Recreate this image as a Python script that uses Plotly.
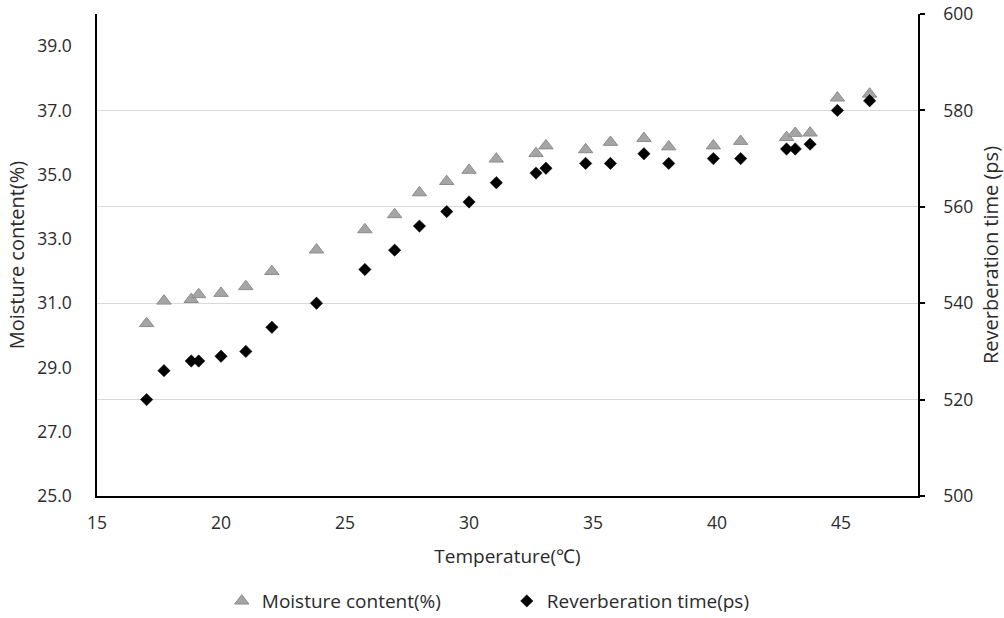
import plotly.graph_objects as go

temperature = [17.0, 17.7, 18.8, 19.1, 20.0, 21.0, 22.05, 23.85, 25.8, 27.0, 28.0, 29.1, 30.0,
               31.1, 32.7, 33.1, 34.7, 35.7, 37.05, 38.05, 39.85, 40.95, 42.8, 43.15, 43.75,
               44.85, 46.15]
moisture = [30.37, 31.07, 31.12, 31.27, 31.31, 31.52, 31.99, 32.66, 33.29, 33.76, 34.44, 34.79,
            35.14, 35.49, 35.66, 35.9, 35.78, 36.01, 36.13, 35.87, 35.9, 36.04, 36.16, 36.29,
            36.3, 37.39, 37.51]
reverb = [520, 526, 528, 528, 529, 530, 535, 540, 547, 551, 556, 559, 561, 565, 567, 568,
          569, 569, 571, 569, 570, 570, 572, 572, 573, 580, 582]

left_ticks = [25, 27, 29, 31, 33, 35, 37, 39]
right_ticks = [500, 520, 540, 560, 580, 600]
x_ticks = [15, 20, 25, 30, 35, 40, 45]

FONT = "Open Sans"
TXT = "#2b2b2b"

fig = go.Figure()
fig.add_trace(go.Scatter(
    x=temperature, y=moisture, mode="markers", name="Moisture content(%)",
    marker=dict(symbol="triangle-up", size=12.5, color="#A5A5A5",
                line=dict(color="#8C8C8C", width=1)),
    yaxis="y"))
fig.add_trace(go.Scatter(
    x=temperature, y=reverb, mode="markers", name="Reverberation time(ps)",
    marker=dict(symbol="diamond", size=9.5, color="#000000",
                line=dict(color="#000000", width=0.5)),
    yaxis="y2"))

fig.update_layout(
    width=1004, height=618,
    margin=dict(l=97, r=86, t=14, b=122, autoexpand=False),
    paper_bgcolor="white", plot_bgcolor="white",
    font=dict(family=FONT, size=17, color=TXT),
    showlegend=True,
    legend=dict(orientation="h", x=0.152, xanchor="left", y=-0.218, yanchor="middle",
                font=dict(size=19, color=TXT), itemsizing="trace",
                entrywidth=240, traceorder="normal"),
    xaxis=dict(range=[15, 48.1], tickvals=x_ticks, showgrid=False, zeroline=False,
               showline=True, linecolor="#000000", linewidth=1.5, ticks="",
               automargin=False, ticklabelstandoff=10, ticklabeloverflow="allow",
               tickfont=dict(size=17.5, color=TXT),
               title=dict(text="Temperature(℃)", font=dict(size=19, color=TXT), standoff=17)),
    yaxis=dict(range=[25, 40], tickvals=left_ticks, tickformat=".1f", showgrid=False,
               zeroline=False, showline=True, linecolor="#000000", linewidth=1.5, ticks="",
               ticklabelstandoff=20, automargin=False, ticklabeloverflow="allow",
               tickfont=dict(size=17.5, color=TXT),
               title=dict(text="Moisture content(%)", font=dict(size=20, color=TXT), standoff=7)),
    yaxis2=dict(range=[500, 600], tickvals=right_ticks, overlaying="y", side="right",
                showgrid=True, gridcolor="#D9D9D9", gridwidth=1, zeroline=False,
                showline=True, linecolor="#000000", linewidth=1.5, automargin=False,
                ticks="outside", ticklen=5, tickcolor="#000000", tickwidth=1.5,
                ticklabelstandoff=15, ticklabeloverflow="allow",
                tickfont=dict(size=17.5, color=TXT),
                title=dict(text="Reverberation time (ps)", font=dict(size=20, color=TXT),
                           standoff=12)),
)

# remove the default 8px page margin so the figure fills the window exactly
fig.write_html("out.html", config={"displayModeBar": False},
               post_script="document.body.style.margin='0';")
